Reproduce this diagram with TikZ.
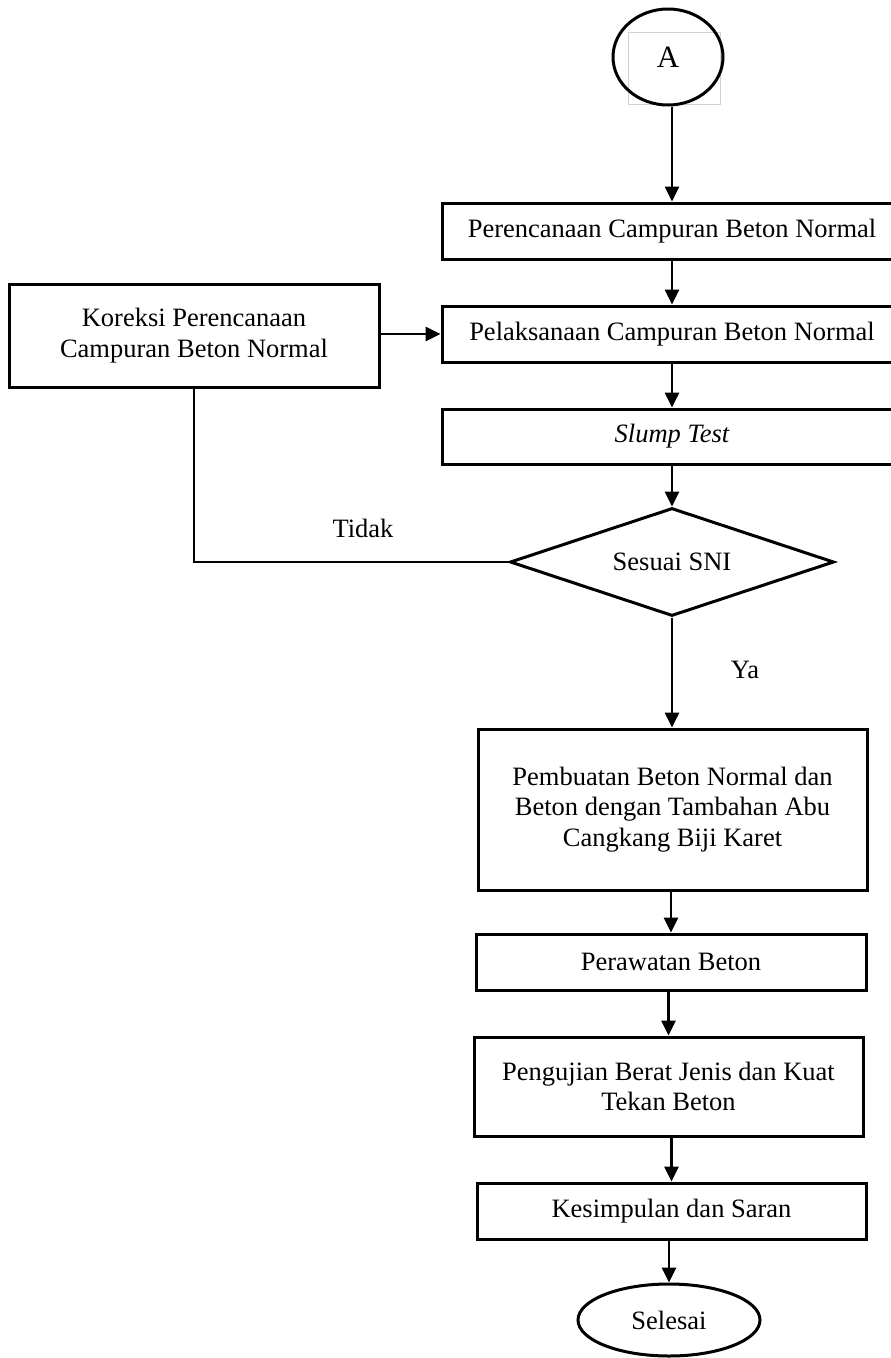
\documentclass[tikz,border=0pt]{standalone}
\usepackage{fontspec}
\setmainfont{Liberation Serif}
\usetikzlibrary{shapes.geometric,arrows.meta}
\begin{document}
\begin{tikzpicture}[x=1pt,y=-1pt,
  every node/.style={font=\fontsize{26.5}{30.5}\selectfont, align=center},
  procbox/.style={draw, line width=3pt, rectangle, inner sep=0pt},
  arr/.style={line width=2.6pt, -{Triangle[length=15pt,width=14pt]}},
  link/.style={line width=2.2pt}]
\useasboundingbox (0,0) rectangle (891,1358);
\fill[white] (0,0) rectangle (891,1358);
% faint square behind A
\draw[gray!35, line width=0.8pt] (628,32) rectangle (720,104);
\node[draw, ellipse, line width=3pt, minimum width=110pt, minimum height=96pt, inner sep=0pt, font=\fontsize{31}{34}\selectfont] (A) at (668,57) {A};
\node[procbox, minimum width=460pt, minimum height=56pt] (b1) at (672,231) {Perencanaan Campuran Beton Normal};
\node[procbox, minimum width=460pt, minimum height=56pt] (b2) at (672,334) {Pelaksanaan Campuran Beton Normal};
\node[procbox, minimum width=460pt, minimum height=55pt] (b3) at (672,436.5) {\itshape Slump Test};
\node[procbox, minimum width=370pt, minimum height=103pt] (k) at (194,335.5) {Koreksi Perencanaan\\Campuran Beton Normal};
\node[draw, diamond, line width=3pt, minimum width=324pt, minimum height=108pt, inner sep=0pt, aspect=3] (d) at (672,562) {Sesuai SNI};
\node (tidak) at (363,528) {Tidak};
\node (ya) at (745,670) {Ya};
\node[procbox, minimum width=389pt, minimum height=161pt] (b4) at (672.5,809.5) {Pembuatan Beton Normal dan\\Beton dengan Tambahan Abu\\Cangkang Biji Karet};
\node[procbox, minimum width=390pt, minimum height=56pt] (b5) at (671,962) {Perawatan Beton};
\node[procbox, minimum width=389pt, minimum height=99pt] (b6) at (668.5,1086.5) {Pengujian Berat Jenis dan Kuat\\Tekan Beton};
\node[procbox, minimum width=389pt, minimum height=56pt] (b7) at (671.5,1211) {Kesimpulan dan Saran};
\node[draw, ellipse, line width=3pt, minimum width=182pt, minimum height=72pt, inner sep=0pt] (end) at (669,1320) {Selesai};
% connectors
\draw[arr] (b1.north |- A.south) -- (b1.north);
\draw[arr] (b1.south) -- (b2.north);
\draw[arr] (b2.south) -- (b3.north);
\draw[arr] (b3.south) -- (d.north);
\draw[arr] (d.south) -- (b4.north -| d.south);
\draw[arr] (b5.north |- b4.south) -- (b5.north);
\draw[arr] (b6.north |- b5.south) -- (b6.north);
\draw[arr] (b7.north |- b6.south) -- (b7.north);
\draw[arr] (end.north |- b7.south) -- (end.north);
\draw[arr] (k.east |- b2.west) -- (b2.west);
\draw[link] (d.west) -| (k.south);
\end{tikzpicture}
\end{document}
